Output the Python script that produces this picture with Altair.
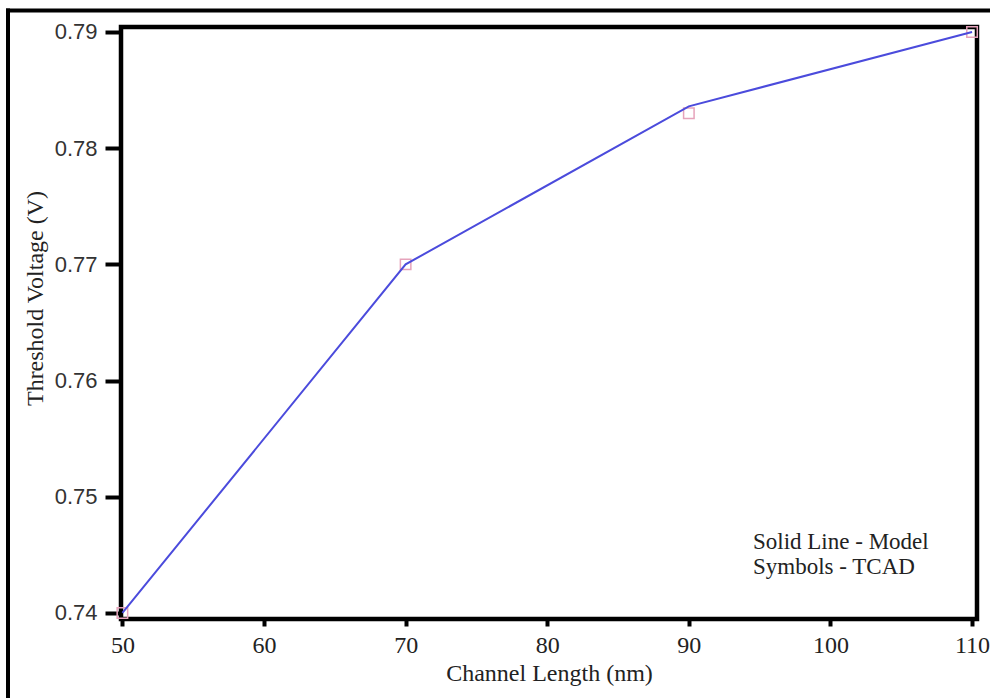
import altair as alt
import pandas as pd

# Threshold voltage vs channel length: analytical model against TCAD simulation
channel_length = [50, 70, 90, 110]
vth_model = [0.7400, 0.7700, 0.7836, 0.7900]
vth_tcad = [0.7400, 0.7700, 0.7830, 0.7900]
x_ticks = [50, 60, 70, 80, 90, 100, 110]
y_ticks = [0.74, 0.75, 0.76, 0.77, 0.78, 0.79]
note_lines = ["Solid Line - Model", "Symbols - TCAD"]

df = pd.DataFrame({"L": channel_length, "model": vth_model, "tcad": vth_tcad})

SERIF = "Liberation Serif"
SANS = "Liberation Sans"
INK = "#222222"

x_enc = alt.X(
    "L:Q",
    scale=alt.Scale(domain=[49.9, 110.35], nice=False, zero=False),
    axis=alt.Axis(
        values=x_ticks,
        title="Channel Length (nm)",
        domain=False,
        grid=False,
        tickSize=7,
        tickWidth=4,
        tickColor="black",
        labelFont=SERIF,
        labelFontSize=24,
        labelColor=INK,
        labelBaseline="alphabetic",
        labelPadding=26,
        labelFlush=False,
        titleFont=SERIF,
        titleFontSize=24,
        titleFontWeight="normal",
        titleColor=INK,
        titleBaseline="alphabetic",
        titleY=61,
    ),
)

y_scale = alt.Scale(domain=[0.73948, 0.79043], nice=False, zero=False)
y_axis = alt.Axis(
    values=y_ticks,
    format=".2f",
    title="Threshold Voltage (V)",
    domain=False,
    grid=False,
    tickSize=16,
    tickWidth=4,
    tickColor="black",
    labelFont=SANS,
    labelFontSize=22,
    labelColor="#333333",
    labelPadding=8,
    labelFlush=False,
    titleFont=SERIF,
    titleFontSize=24,
    titleFontWeight="normal",
    titleColor=INK,
    titleAngle=270,
    titleAlign="center",
    titleBaseline="middle",
    titleX=-86,
    titleY=271,
)

base = alt.Chart(df)

tcad = base.mark_point(
    shape="square", size=110, filled=False, color="#e6a3bb", strokeWidth=1.5, opacity=1
).encode(x=x_enc, y=alt.Y("tcad:Q", scale=y_scale, axis=y_axis))

model = base.mark_line(color="#4b4bdc", strokeWidth=2).encode(
    x="L:Q", y=alt.Y("model:Q", scale=y_scale)
)

note = alt.Chart(pd.DataFrame({"t": [0]})).mark_text(
    text=note_lines,
    font=SERIF,
    fontSize=23,
    color=INK,
    align="left",
    baseline="alphabetic",
    lineHeight=25,
).encode(x=alt.value(632), y=alt.value(522))

# page frame: left and top edge
frame_left = alt.Chart(pd.DataFrame({"t": [0]})).mark_rule(
    color="black", strokeWidth=4
).encode(x=alt.value(-113), y=alt.value(-18.5), y2=alt.value(700))
frame_top = alt.Chart(pd.DataFrame({"t": [0]})).mark_rule(
    color="black", strokeWidth=4
).encode(y=alt.value(-16.5), x=alt.value(-115), x2=alt.value(900))

chart = (
    alt.layer(frame_left, frame_top, tcad, model, note)
    .properties(
        width=856,
        height=592,
        autosize=alt.AutoSizeParams(type="none"),
        padding={"left": 121, "top": 27, "right": 13, "bottom": 79},
        background="white",
    )
    .configure_view(stroke="black", strokeWidth=4.5)
)

chart.save("out.html", embed_options={"renderer": "svg", "actions": False})
